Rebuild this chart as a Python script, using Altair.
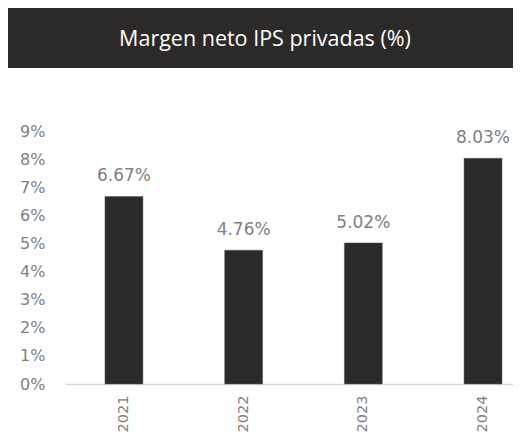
import altair as alt
import pandas as pd

years = ["2021", "2022", "2023", "2024"]
values = [6.67, 4.76, 5.02, 8.03]
labels = ["6.67%", "4.76%", "5.02%", "8.03%"]
y_ticks = [0, 1, 2, 3, 4, 5, 6, 7, 8, 9]
title_text = "Margen neto IPS privadas (%)"

df = pd.DataFrame({"year": years, "value": values, "label": labels})

W, H = 448, 253
DARK = "#2b2a28"
GREY = "#808080"

x_enc = alt.X(
    "year:N",
    sort=years,
    scale=alt.Scale(paddingInner=0.683, paddingOuter=0.213, align=0.784),
    axis=alt.Axis(
        title=None, labelAngle=270, ticks=False, domain=True,
        domainColor="#d9d9d9", domainWidth=1.5, labelPadding=11,
        labelFont="DejaVu Sans", labelFontSize=14.5, labelColor=GREY,
    ),
)
y_enc = alt.Y(
    "value:Q",
    scale=alt.Scale(domain=[0, 9], nice=False),
    axis=alt.Axis(
        title=None, values=y_ticks, tickCount=10, labelExpr="datum.value + '%'",
        grid=False, ticks=False, domain=False, labelPadding=20,
        labelOverlap=False, labelFont="DejaVu Sans", labelFontSize=16,
        labelColor=GREY,
    ),
)

bars = alt.Chart(df).mark_bar(color=DARK, stroke="#5a5a5a", strokeWidth=0.5).encode(x=x_enc, y=y_enc)
text = alt.Chart(df).mark_text(
    baseline="alphabetic", dy=-15, font="DejaVu Sans", fontSize=17, color=GREY
).encode(x=x_enc, y=y_enc, text="label:N")

hdr_data = alt.Data(values=[{"t": title_text}])
header = alt.Chart(hdr_data).mark_rect(color=DARK).encode(
    x=alt.value(-57), x2=alt.value(W), y=alt.value(-123), y2=alt.value(-63)
)
title = alt.Chart(hdr_data).mark_text(
    color="white", font="Open Sans", fontSize=21.5, align="center", baseline="middle"
).encode(x=alt.value(200), y=alt.value(-91), text="t:N")

chart = alt.layer(bars, text, header, title).properties(
    width=W, height=H,
    background="white",
    autosize=alt.AutoSizeParams(type="none"),
    padding={"left": 57, "top": 123, "right": 0, "bottom": 51},
).configure_view(strokeWidth=0, stroke=None)

chart.save("out.html", embed_options={"renderer": "svg", "actions": False})
